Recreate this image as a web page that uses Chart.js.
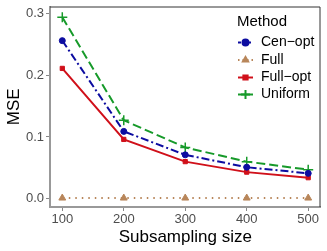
<!DOCTYPE html>
<html>
<head>
<meta charset="utf-8">
<script src="https://cdn.jsdelivr.net/npm/chart.js@4/dist/chart.umd.min.js"></script>
<style>
  html, body { margin: 0; padding: 0; background: #fff; }
  #wrap { width: 327px; height: 251px; position: relative; }
</style>
</head>
<body>
<div id="wrap"><canvas id="chart"></canvas></div>
<script>
// данные
const sizes = [100, 200, 300, 400, 500];
const cenOpt = [0.256, 0.109, 0.071, 0.051, 0.041];
const full = [0.001, 0.001, 0.001, 0.001, 0.001];
const fullOpt = [0.211, 0.096, 0.060, 0.043, 0.034];
const uniform = [0.294, 0.127, 0.083, 0.060, 0.047];
const xTicks = [100, 200, 300, 400, 500];
const yTicks = [0, 0.1, 0.2, 0.3];

const FONT = '"Liberation Sans", Arial, sans-serif';

function pts(arr) {
  return sizes.map((x, i) => ({ x: x, y: arr[i] }));
}

const series = [
  { label: 'Cen\u2212opt', data: cenOpt, color: '#0c0ca0', dash: [8, 3, 2, 3], keyDash: [3, 2], point: 'circle', r: 3 },
  { label: 'Full', data: full, color: '#b8865a', dash: [1.5, 5], keyDash: [1.5, 3], point: 'triangle', r: 4 },
  { label: 'Full\u2212opt', data: fullOpt, color: '#d0101a', dash: [], keyDash: [], point: 'rect', r: 3 },
  { label: 'Uniform', data: uniform, color: '#179a2a', dash: [9, 4], keyDash: [], point: 'cross', r: 5 }
];

// легенда внутри панели + рамка панели
const legendPlugin = {
  id: 'insideLegend',
  afterDraw(chart) {
    const ctx = chart.ctx;
    const a = chart.chartArea;
    ctx.save();
    ctx.strokeStyle = '#333';
    ctx.lineWidth = 1;
    ctx.beginPath();
    ctx.moveTo(a.left, a.top + 0.5);
    ctx.lineTo(a.right - 0.5, a.top + 0.5);
    ctx.lineTo(a.right - 0.5, a.bottom);
    ctx.stroke();
    ctx.fillStyle = '#000';
    ctx.textBaseline = 'middle';
    ctx.textAlign = 'left';
    ctx.font = '15px ' + FONT;
    ctx.fillText('Method', 237, 22);
    ctx.font = '14px ' + FONT;
    const rows = [42.5, 60, 77.5, 94.5];
    chart.data.datasets.forEach((ds, i) => {
      const y = rows[i];
      const s = series[i];
      ctx.strokeStyle = ds.borderColor;
      ctx.fillStyle = ds.borderColor;
      ctx.lineWidth = 2;
      ctx.setLineDash(s.keyDash);
      ctx.beginPath();
      ctx.moveTo(238, y);
      ctx.lineTo(253, y);
      ctx.stroke();
      ctx.setLineDash([]);
      Chart.helpers.drawPoint(ctx, {
        pointStyle: ds.pointStyle, radius: ds.pointStyle === 'cross' ? 4.5 : 3, borderWidth: ds.pointStyle === 'cross' ? 1.5 : 1
      }, 245.5, y);
      ctx.fillStyle = '#000';
      ctx.fillText(ds.label, 261, y);
    });
    ctx.restore();
  }
};

new Chart(document.getElementById('chart'), {
  type: 'line',
  data: {
    datasets: series.map(s => ({
      label: s.label,
      data: pts(s.data),
      borderColor: s.color,
      backgroundColor: s.color,
      borderWidth: 2,
      borderDash: s.dash,
      pointStyle: s.point,
      pointRadius: s.r,
      pointBorderWidth: s.point === 'cross' ? 1.5 : 1,
      tension: 0,
      fill: false
    }))
  },
  options: {
    responsive: true,
    maintainAspectRatio: false,
    animation: false,
    layout: { padding: { top: 5, right: 6, left: 0, bottom: 0 } },
    plugins: {
      legend: { display: false },
      tooltip: { enabled: false }
    },
    scales: {
      x: {
        type: 'linear',
        min: 80,
        max: 520,
        afterBuildTicks: s => { s.ticks = xTicks.map(v => ({ value: v })); },
        afterFit: s => { s.height = 44; s.paddingLeft = 0; s.paddingRight = 0; },
        grid: { drawOnChartArea: false, tickLength: 4, color: '#888', tickWidth: 1 },
        border: { display: true, color: '#999', width: 2 },
        ticks: { color: '#4d4d4d', font: { family: FONT, size: 13 }, padding: 1, maxRotation: 0 },
        title: { display: true, text: 'Subsampling size', color: '#000', font: { family: FONT, size: 17 }, padding: { top: 0, bottom: 3 } }
      },
      y: {
        min: -0.0135,
        max: 0.3113,
        afterBuildTicks: s => { s.ticks = yTicks.map(v => ({ value: v })); },
        afterFit: s => { s.width = 50; s.paddingTop = 0; s.paddingBottom = 0; },
        grid: { drawOnChartArea: false, tickLength: 4, color: '#888', tickWidth: 1 },
        border: { display: true, color: '#999', width: 2 },
        ticks: { color: '#4d4d4d', font: { family: FONT, size: 13 }, padding: 2, callback: v => v.toFixed(1) },
        title: { display: true, text: 'MSE', color: '#000', font: { family: FONT, size: 17 }, padding: { top: 4, bottom: 0 } }
      }
    }
  },
  plugins: [legendPlugin]
});
</script>
</body>
</html>
